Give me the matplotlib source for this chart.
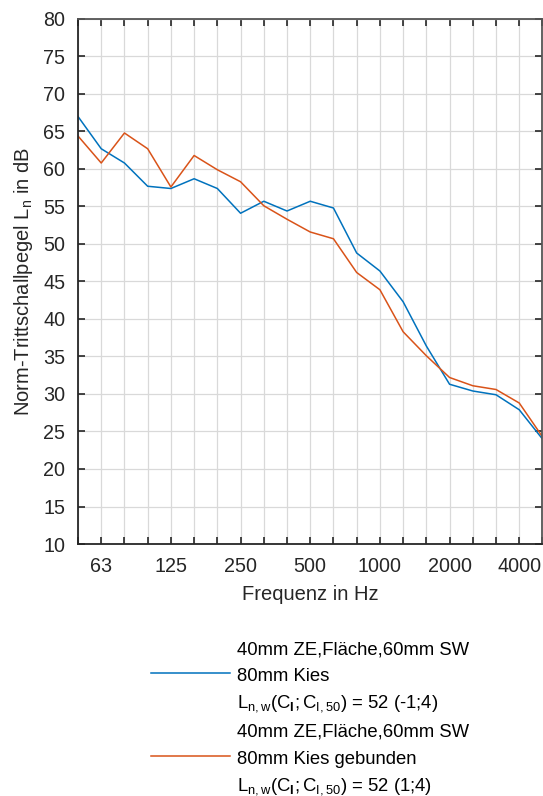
import numpy as np
import matplotlib
matplotlib.use('Agg')
from matplotlib import pyplot as plt
from matplotlib.lines import Line2D

plt.rcParams['font.family'] = ['Liberation Sans', 'DejaVu Sans']
plt.rcParams['mathtext.fontset'] = 'custom'
plt.rcParams['mathtext.rm'] = 'Liberation Sans'
plt.rcParams['mathtext.it'] = 'Liberation Sans'
plt.rcParams['mathtext.bf'] = 'Liberation Sans:bold'
plt.rcParams['mathtext.default'] = 'regular'

# third-octave bands
bands = [50, 63, 80, 100, 125, 160, 200, 250, 315, 400, 500, 630, 800,
         1000, 1250, 1600, 2000, 2500, 3150, 4000, 5000]
labelled = [63, 125, 250, 500, 1000, 2000, 4000]

kies = [67.0, 62.7, 60.8, 57.7, 57.4, 58.7, 57.4, 54.1, 55.7, 54.4, 55.7,
        54.8, 48.8, 46.4, 42.3, 36.4, 31.3, 30.4, 29.9, 27.9, 24.0]
kies_geb = [64.4, 60.8, 64.8, 62.7, 57.6, 61.8, 59.9, 58.3, 55.1, 53.3, 51.6,
            50.7, 46.2, 43.9, 38.3, 35.1, 32.2, 31.1, 30.6, 28.8, 24.3]

label1 = ['40mm ZE,Fläche,60mm SW', '80mm Kies',
          '$L_{n,w}(C_{\\mathbf{I}};C_{I,50})$ = 52 (-1;4)']
label2 = ['40mm ZE,Fläche,60mm SW', '80mm Kies gebunden',
          '$L_{n,w}(C_{\\mathbf{I}};C_{I,50})$ = 52 (1;4)']

fig = plt.figure(figsize=(5.43, 7.96), dpi=100)
ax = fig.add_axes([78 / 543, 1 - 544 / 796, 1 - 78 / 543 - 0.001, (544 - 19) / 796])

x = np.arange(len(bands))
l1, = ax.plot(x, kies, color='#0072BD', lw=1.1)
l2, = ax.plot(x, kies_geb, color='#D95319', lw=1.1)

ax.set_xlim(0, len(bands) - 1)
ax.set_ylim(10, 80)
ax.set_xticks(x)
ax.set_xticklabels([str(b) if b in labelled else '' for b in bands])
ax.set_yticks(np.arange(10, 81, 5))
ax.grid(True, color='#d9d9d9', lw=0.9)
ax.set_axisbelow(True)
ax.tick_params(direction='in', length=5, width=1.2, top=True, right=True,
               labelsize=14.2, colors='#262626', pad=9)
for s in ['left', 'bottom']:
    ax.spines[s].set_color('#262626')
    ax.spines[s].set_linewidth(1.3)
for s in ['top', 'right']:
    ax.spines[s].set_color('#555555')
    ax.spines[s].set_linewidth(1.3)

ax.set_xlabel('Frequenz in Hz', fontsize=14.5, color='#262626', labelpad=7)
ax.set_ylabel('Norm-Trittschallpegel $L_n$ in dB', fontsize=14.5, color='#262626', labelpad=6)

# legend: one row per text line, the line handle sits on the middle row
blank = Line2D([], [], color='none')
handles = [blank, l1, blank, blank, l2, blank]
labels = label1 + label2
leg = fig.legend(handles, labels, loc='upper left',
                 bbox_to_anchor=(134 / 543, 1 - 622 / 796), frameon=False,
                 fontsize=13.3, handlelength=4.3, handletextpad=0.4,
                 handleheight=1.2, labelspacing=0.38)

plt.savefig('out.png', dpi=100)
